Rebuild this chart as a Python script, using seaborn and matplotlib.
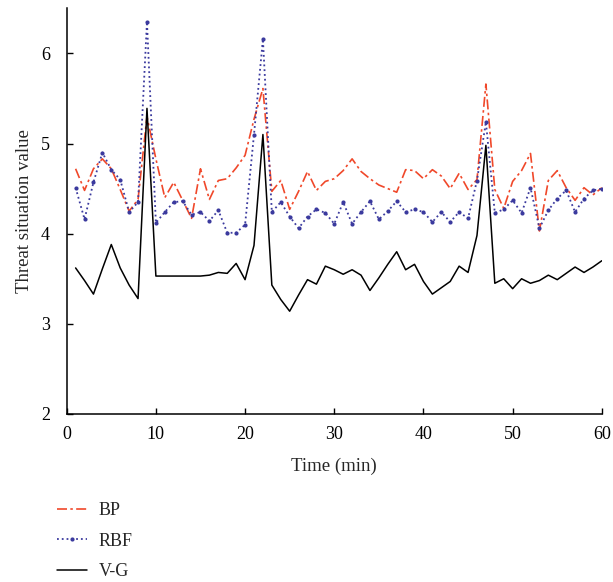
import numpy as np
import pandas as pd
import matplotlib
matplotlib.use('Agg')
import matplotlib.pyplot as plt
import seaborn as sns

# Data
time_min = list(range(1, 61))

bp = [4.72, 4.48, 4.72, 4.83, 4.72, 4.49, 4.25, 4.38, 5.30, 4.83,
      4.40, 4.57, 4.37, 4.17, 4.72, 4.38, 4.59, 4.61, 4.73, 4.87,
      5.27, 5.61, 4.47, 4.59, 4.27, 4.47, 4.69, 4.48, 4.58, 4.61,
      4.70, 4.83, 4.69, 4.61, 4.54, 4.50, 4.46, 4.71, 4.70, 4.61,
      4.71, 4.64, 4.50, 4.67, 4.49, 4.60, 5.66, 4.49, 4.28, 4.58,
      4.70, 4.89, 4.03, 4.59, 4.70, 4.51, 4.37, 4.51, 4.43, 4.51]

rbf = [4.51, 4.16, 4.57, 4.90, 4.71, 4.60, 4.24, 4.35, 6.35, 4.12,
       4.24, 4.35, 4.36, 4.21, 4.24, 4.14, 4.26, 4.01, 4.01, 4.10,
       5.10, 6.16, 4.24, 4.35, 4.19, 4.06, 4.19, 4.27, 4.23, 4.11,
       4.35, 4.11, 4.24, 4.36, 4.16, 4.25, 4.36, 4.24, 4.27, 4.24,
       4.13, 4.24, 4.13, 4.24, 4.17, 4.59, 5.24, 4.23, 4.27, 4.37,
       4.23, 4.51, 4.06, 4.26, 4.39, 4.48, 4.24, 4.39, 4.48, 4.50]

vg = [3.62, 3.48, 3.33, 3.61, 3.88, 3.62, 3.43, 3.28, 5.39, 3.53,
      3.53, 3.53, 3.53, 3.53, 3.53, 3.54, 3.57, 3.56, 3.67, 3.49,
      3.87, 5.10, 3.43, 3.27, 3.14, 3.32, 3.49, 3.44, 3.64, 3.60,
      3.55, 3.60, 3.54, 3.37, 3.51, 3.66, 3.80, 3.60, 3.66, 3.47,
      3.33, 3.40, 3.47, 3.64, 3.57, 3.98, 4.98, 3.45, 3.50, 3.39,
      3.50, 3.45, 3.48, 3.54, 3.49, 3.56, 3.63, 3.57, 3.63, 3.70]

df = pd.DataFrame({'time': time_min, 'BP': bp, 'RBF': rbf, 'V-G': vg})

sns.set_style('ticks')
plt.rcParams['font.family'] = ['Liberation Serif', 'DejaVu Serif']

fig = plt.figure(figsize=(6.13, 5.82), dpi=100)
ax = fig.add_axes([0.1088, 0.2887, 0.873, 0.697])

# Draw the three series
sns.lineplot(data=df, x='time', y='BP', ax=ax, color='#f0482a',
             linestyle=(0, (6, 2, 1.5, 2)), linewidth=1.2, label='BP')
sns.lineplot(data=df, x='time', y='RBF', ax=ax, color='#3b3a9e',
             linestyle=':', linewidth=1.3, marker='o', markersize=3,
             markeredgewidth=0, label='RBF')
sns.lineplot(data=df, x='time', y='V-G', ax=ax, color='black',
             linestyle='-', linewidth=1.1, label='V-G')

ax.set_xlim(0, 60)
ax.set_ylim(2, 6.5)
ax.set_xticks(range(0, 61, 10))
ax.set_yticks([2, 3, 4, 5, 6])
ax.tick_params(direction='in', labelsize=13, length=4, width=1, colors='black')
ax.tick_params(axis='x', pad=9)
ax.tick_params(axis='y', pad=12)
ax.set_xlabel('Time (min)', fontsize=13.5, labelpad=10)
ax.set_ylabel('Threat situation value', fontsize=13.5, labelpad=6)
sns.despine(ax=ax)
for s in ['left', 'bottom']:
    ax.spines[s].set_linewidth(1.1)
    ax.spines[s].set_color('black')

# Legend below the plot, stacked on the left
handles, labels = ax.get_legend_handles_labels()
ax.get_legend().remove()
fig.legend(handles, labels, loc='upper left', bbox_to_anchor=(0.067, 0.165),
           frameon=False, fontsize=13, handlelength=1.65, labelspacing=0.74,
           handletextpad=0.65)

fig.savefig('out.png', dpi=100)
